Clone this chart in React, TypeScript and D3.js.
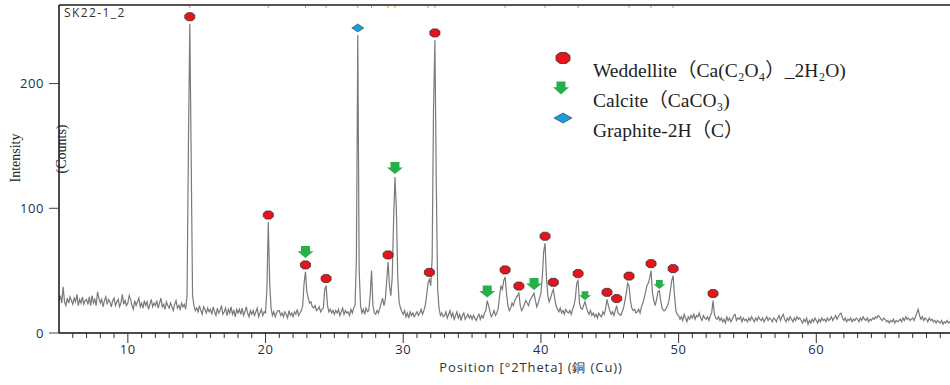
import React from "react";
import * as d3 from "d3";

// scan: 5.0 .. 69.9 °2θ, step 0.1, one row per degree (counts)
const scanStart = 5;
const scanStep = 0.1;
const countRows: number[][] = [
  [26, 30, 24, 37, 25, 22, 28, 24, 29, 26],
  [23, 28, 25, 31, 22, 27, 24, 29, 23, 26],
  [27, 23, 29, 22, 30, 24, 27, 22, 33, 28],
  [24, 27, 21, 26, 29, 23, 27, 25, 21, 26],
  [28, 22, 25, 27, 21, 24, 31, 23, 26, 22],
  [24, 30, 27, 22, 19, 26, 22, 25, 28, 21],
  [24, 20, 26, 22, 25, 19, 23, 27, 21, 24],
  [22, 26, 20, 24, 28, 21, 23, 19, 25, 22],
  [20, 24, 21, 18, 23, 26, 20, 22, 19, 24],
  [21, 23, 19, 30, 150, 248, 140, 30, 22, 18],
  [20, 17, 22, 18, 15, 21, 19, 16, 20, 17],
  [19, 15, 21, 17, 14, 20, 16, 18, 22, 15],
  [17, 20, 14, 19, 16, 21, 15, 18, 13, 19],
  [16, 19, 15, 20, 14, 17, 21, 16, 13, 18],
  [15, 18, 14, 17, 20, 13, 16, 19, 14, 17],
  [16, 35, 89, 40, 20, 14, 17, 13, 16, 18],
  [18, 14, 16, 13, 17, 15, 12, 18, 14, 16],
  [13, 17, 15, 19, 14, 16, 18, 22, 40, 49],
  [33, 28, 24, 25, 21, 20, 22, 18, 19, 21],
  [17, 19, 20, 35, 38, 22, 17, 19, 16, 18],
  [15, 18, 16, 19, 14, 17, 20, 15, 18, 16],
  [17, 14, 19, 16, 20, 22, 60, 239, 50, 22],
  [16, 19, 15, 20, 17, 18, 30, 50, 22, 16],
  [15, 18, 16, 20, 24, 28, 22, 27, 42, 57],
  [38, 30, 45, 90, 125, 100, 45, 25, 20, 17],
  [15, 18, 13, 16, 12, 17, 14, 16, 13, 15],
  [17, 14, 16, 19, 15, 18, 22, 30, 40, 43],
  [38, 60, 180, 235, 120, 35, 20, 14, 16, 13],
  [14, 17, 12, 15, 18, 13, 16, 11, 14, 17],
  [12, 15, 10, 14, 16, 11, 13, 15, 12, 14],
  [11, 14, 12, 10, 13, 15, 11, 14, 12, 16],
  [18, 26, 22, 17, 13, 15, 18, 14, 16, 20],
  [30, 38, 35, 42, 45, 32, 22, 18, 20, 24],
  [22, 26, 28, 30, 32, 22, 18, 20, 23, 26],
  [24, 22, 26, 28, 30, 32, 26, 21, 24, 28],
  [32, 45, 65, 72, 45, 30, 25, 28, 32, 35],
  [28, 22, 19, 17, 20, 16, 18, 15, 19, 17],
  [16, 18, 15, 19, 22, 28, 40, 42, 24, 20],
  [19, 22, 25, 21, 17, 15, 18, 14, 16, 13],
  [15, 12, 16, 14, 13, 17, 15, 20, 27, 22],
  [18, 15, 17, 14, 18, 22, 16, 15, 14, 17],
  [20, 26, 32, 40, 38, 26, 20, 18, 19, 16],
  [17, 19, 16, 21, 24, 28, 33, 38, 40, 44],
  [50, 32, 26, 22, 27, 33, 34, 26, 20, 18],
  [18, 20, 22, 26, 34, 42, 46, 30, 18, 15],
  [14, 11, 13, 10, 15, 12, 9, 13, 11, 14],
  [12, 15, 11, 14, 13, 16, 12, 10, 14, 12],
  [11, 13, 10, 14, 16, 26, 15, 12, 11, 13],
  [10, 12, 9, 11, 8, 13, 10, 12, 9, 11],
  [14, 15, 10, 12, 11, 13, 9, 12, 10, 11],
  [9, 12, 10, 13, 11, 9, 12, 10, 13, 11],
  [10, 12, 9, 11, 13, 10, 12, 11, 9, 12],
  [11, 9, 12, 14, 10, 13, 15, 11, 9, 12],
  [10, 13, 11, 9, 12, 10, 13, 11, 12, 10],
  [8, 11, 9, 12, 7, 10, 8, 11, 9, 12],
  [10, 8, 11, 9, 12, 10, 11, 9, 12, 10],
  [11, 13, 10, 12, 14, 11, 13, 15, 16, 12],
  [10, 12, 9, 11, 10, 12, 9, 11, 10, 12],
  [11, 9, 12, 10, 13, 11, 10, 12, 9, 11],
  [10, 12, 11, 13, 12, 14, 13, 11, 10, 12],
  [11, 9, 10, 8, 10, 9, 11, 8, 10, 9],
  [10, 11, 9, 12, 10, 13, 11, 12, 10, 11],
  [12, 10, 13, 16, 19, 14, 11, 13, 10, 12],
  [11, 9, 12, 10, 11, 9, 10, 8, 10, 9],
  [8, 10, 7, 9, 8, 10, 8, 9, 7, 8],
];

// identified phases: [position °2θ, peak counts]
const weddelliteX = [14.5, 20.2, 22.9, 24.4, 28.9, 31.9, 32.3, 37.4, 38.4, 40.3, 40.9, 42.7, 44.8, 45.5, 46.4, 48.0, 49.6, 52.5];
const weddelliteY = [248, 89, 49, 38, 57, 43, 235, 45, 32, 72, 35, 42, 27, 22, 40, 50, 46, 26];
const calciteX = [22.9, 29.4, 36.1, 39.5, 43.2, 48.6];
const calciteY = [49, 125, 26, 32, 25, 34];
const calciteBig = [true, true, true, true, false, false];
const graphiteX = [26.7];
const graphiteY = [239];
const refTicks = [14.5, 20.2, 22.9, 24.4, 26.7, 27.7, 28.9, 29.4, 31.8, 32.3, 37.4, 40.3, 42.7, 46.4, 48.0, 49.6];

const xTicks = [10, 20, 30, 40, 50, 60];
const yTicks = [0, 100, 200];
const legendItems = ["weddellite", "calcite", "graphite"];

const width = 950;
const height = 385;
const margin = { top: 5, right: -4, bottom: 52, left: 59 };

const octagon = (rx: number, ry: number) => {
  const a = rx * 0.45, b = ry * 0.45;
  return `M${-a},${-ry}L${a},${-ry}L${rx},${-b}L${rx},${b}L${a},${ry}L${-a},${ry}L${-rx},${b}L${-rx},${-b}Z`;
};
const arrow = (w: number, h: number) => {
  const s = w * 0.28;
  return `M${-s},${-h / 2}L${s},${-h / 2}L${s},${-h * 0.05}L${w / 2},${-h * 0.05}L0,${h / 2}L${-w / 2},${-h * 0.05}L${-s},${-h * 0.05}Z`;
};
const diamond = (w: number, h: number) => `M${-w / 2},0L0,${-h / 2}L${w / 2},0L0,${h / 2}Z`;

const RED = "#e8141c";
const GREEN = "#25b04a";
const BLUE = "#1b9be0";
const tickFont = { fontFamily: "'Open Sans'", fontSize: 13, letterSpacing: 0.6, fill: "#24304a" };

export default function App() {
  const points: [number, number][] = [];
  countRows.forEach((row, r) =>
    row.forEach((c, i) => points.push([scanStart + (r * 10 + i) * scanStep, c]))
  );

  const x = d3.scaleLinear().domain([5, 70]).range([margin.left, width - margin.right]);
  const y = d3.scaleLinear().domain([0, 263]).range([height - margin.bottom, margin.top]);
  const y0 = y(0);

  const line = d3.line<[number, number]>().x(d => x(d[0])).y(d => y(d[1]));
  const minor = d3.range(6, 70, 1).filter(v => v % 10 !== 0);

  return (
    <>
      <style>{`body{margin:0}`}</style>
      <svg width={width} height={height} style={{ display: "block", background: "#fff" }}>
        {/* spectrum */}
        <path d={line(points) ?? ""} fill="none" stroke="#7a7a7a" strokeWidth={1.2} />

        {/* frame */}
        <line x1={margin.left} x2={width} y1={margin.top} y2={margin.top} stroke="#555" strokeWidth={2} />
        {refTicks.map((t, i) => (
          <line key={i} x1={x(t)} x2={x(t)} y1={margin.top + 1} y2={margin.top + 3} stroke="#f08a1c" strokeWidth={1} />
        ))}
        <line x1={margin.left} x2={margin.left} y1={margin.top} y2={y0} stroke="#111" strokeWidth={1.5} />
        <line x1={margin.left} x2={width} y1={y0} y2={y0} stroke="#111" strokeWidth={1.5} />

        {/* y axis */}
        {yTicks.map(t => (
          <g key={t}>
            <line x1={margin.left - 10} x2={margin.left} y1={y(t)} y2={y(t)} stroke="#444" />
            <text x={margin.left - 15} y={y(t)} dy="0.35em" textAnchor="end" style={tickFont}>{t}</text>
          </g>
        ))}

        {/* x axis */}
        {minor.map(t => (
          <line key={t} x1={x(t)} x2={x(t)} y1={y0} y2={y0 + 5} stroke="#333" />
        ))}
        {xTicks.map(t => (
          <g key={t}>
            <line x1={x(t)} x2={x(t)} y1={y0} y2={y0 + 10} stroke="#333" />
            <text x={x(t)} y={y0 + 21} textAnchor="middle" style={tickFont}>{t}</text>
          </g>
        ))}
        <text x={531} y={372} textAnchor="middle"
          style={{ fontFamily: "'Open Sans'", fontSize: 13, letterSpacing: 0.9, fill: "#333" }}>
          Position [°2Theta] (銅 (Cu))
        </text>

        {/* axis titles */}
        <text transform={`translate(20,158) rotate(-90)`} textAnchor="middle"
          style={{ fontFamily: "'Liberation Serif'", fontSize: 14, fill: "#222" }}>Intensity</text>
        <text transform={`translate(66,149) rotate(-90)`} textAnchor="middle"
          style={{ fontFamily: "'Liberation Serif'", fontSize: 14, fill: "#222" }}>(Counts)</text>
        <text x={64} y={17} style={{ fontFamily: "'Open Sans'", fontSize: 12, letterSpacing: 1.4, fill: "#333" }}>SK22-1_2</text>

        {/* phase markers */}
        {weddelliteX.map((p, i) => (
          <path key={"w" + i} d={octagon(5, 4)} transform={`translate(${x(p)},${y(weddelliteY[i]) - 7})`}
            fill={RED} stroke="#333" strokeWidth={0.8} />
        ))}
        {calciteX.map((p, i) => {
          const stacked = weddelliteX.includes(p) ? 11 : 0;
          const big = calciteBig[i];
          return (
            <path key={"c" + i} d={big ? arrow(16, 12) : arrow(12, 9)}
              transform={`translate(${x(p)},${y(calciteY[i]) - (big ? 9 : 6) - stacked})`} fill={GREEN} />
          );
        })}
        {graphiteX.map((p, i) => (
          <path key={"g" + i} d={diamond(12, 8)} transform={`translate(${x(p)},${y(graphiteY[i]) - 7})`}
            fill={BLUE} stroke="#333" strokeWidth={0.6} />
        ))}

        {/* legend */}
        <g style={{ fontFamily: "'Liberation Serif', 'Noto Sans CJK SC'", fontSize: 19.5, fill: "#222" }}>
          {legendItems.map((k, i) => (
            <g key={k} transform={`translate(563,${58 + i * 30})`}>
              {k === "weddellite" && <path d={octagon(7, 5.5)} fill={RED} stroke="#333" strokeWidth={0.8} />}
              {k === "calcite" && <path d={arrow(16, 13)} fill={GREEN} transform="translate(-2,0)" />}
              {k === "graphite" && <path d={diamond(18, 10)} fill={BLUE} stroke="#333" strokeWidth={0.6} />}
            </g>
          ))}
          <text x={593} y={77}>Weddellite（Ca(C₂O₄）_2H₂O)</text>
          <text x={593} y={107}>Calcite（CaCO₃)</text>
          <text x={593} y={137}>Graphite-2H（C）</text>
        </g>
      </svg>
    </>
  );
}
